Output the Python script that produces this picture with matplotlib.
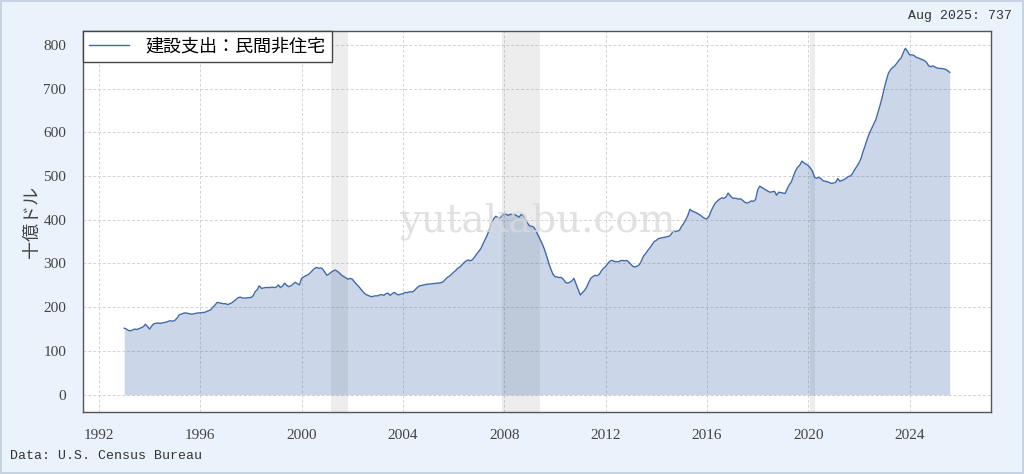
import matplotlib
matplotlib.use('Agg')
import matplotlib.pyplot as plt
import matplotlib.dates as mdates
import pandas as pd

plt.rcParams['font.family'] = ['Liberation Serif', 'Noto Sans CJK JP', 'DejaVu Sans']

# 建設支出：民間非住宅 (十億ドル), monthly Jan 1993 - Aug 2025
v1993 = [152, 150, 147, 146, 148, 150, 149, 151, 153, 155, 161, 156]
v1994 = [150, 157, 162, 163, 164, 163, 164, 165, 166, 168, 169, 168]
v1995 = [170, 175, 182, 184, 186, 187, 186, 185, 184, 185, 186, 187]
v1996 = [187, 188, 188, 190, 192, 194, 200, 205, 211, 210, 209, 208]
v1997 = [208, 206, 208, 210, 214, 218, 222, 223, 221, 221, 221, 222]
v1998 = [222, 226, 235, 240, 249, 243, 244, 245, 245, 245, 246, 245]
v1999 = [246, 251, 245, 248, 255, 250, 247, 249, 253, 257, 254, 251]
v2000 = [266, 269, 272, 274, 278, 283, 288, 291, 289, 290, 287, 280]
v2001 = [273, 276, 280, 283, 285, 282, 278, 273, 270, 267, 264, 266]
v2002 = [264, 258, 253, 248, 242, 236, 231, 228, 226, 224, 225, 226]
v2003 = [226, 228, 229, 227, 231, 232, 227, 231, 234, 230, 228, 230]
v2004 = [231, 234, 233, 235, 235, 236, 241, 246, 249, 250, 251, 252]
v2005 = [253, 253, 254, 254, 255, 255, 256, 258, 263, 268, 271, 275]
v2006 = [280, 284, 289, 292, 297, 302, 306, 308, 306, 309, 315, 322]
v2007 = [328, 335, 345, 355, 365, 378, 392, 402, 408, 405, 404, 410]
v2008 = [415, 412, 410, 413, 411, 412, 409, 406, 412, 410, 400, 392]
v2009 = [386, 385, 383, 375, 365, 355, 345, 333, 318, 302, 288, 276]
v2010 = [270, 269, 268, 268, 264, 257, 255, 257, 260, 266, 253, 240]
v2011 = [228, 233, 238, 245, 256, 266, 270, 273, 272, 275, 283, 289]
v2012 = [293, 300, 305, 307, 305, 304, 304, 306, 307, 306, 307, 303]
v2013 = [298, 293, 292, 294, 297, 306, 317, 323, 330, 336, 343, 350]
v2014 = [353, 357, 358, 359, 360, 361, 362, 366, 374, 373, 374, 376]
v2015 = [385, 392, 400, 410, 424, 420, 418, 416, 413, 410, 406, 403]
v2016 = [402, 408, 420, 430, 438, 443, 447, 450, 449, 452, 461, 455]
v2017 = [450, 449, 449, 447, 448, 444, 440, 438, 440, 443, 442, 446]
v2018 = [468, 477, 474, 471, 468, 465, 463, 464, 465, 456, 463, 462]
v2019 = [461, 460, 470, 480, 486, 500, 512, 520, 525, 534, 530, 527]
v2020 = [524, 518, 511, 497, 495, 497, 494, 489, 488, 487, 485, 483]
v2021 = [484, 486, 494, 488, 490, 492, 495, 499, 500, 506, 515, 522]
v2022 = [530, 541, 556, 570, 585, 598, 608, 618, 629, 645, 662, 680]
v2023 = [701, 720, 735, 743, 748, 752, 758, 765, 770, 782, 792, 785]
v2024 = [777, 777, 776, 772, 770, 768, 766, 764, 760, 752, 750, 752]
v2025 = [749, 747, 746, 746, 745, 744, 741, 737]

values = (v1993 + v1994 + v1995 + v1996 + v1997 + v1998 + v1999 + v2000 + v2001 + v2002
          + v2003 + v2004 + v2005 + v2006 + v2007 + v2008 + v2009 + v2010 + v2011 + v2012
          + v2013 + v2014 + v2015 + v2016 + v2017 + v2018 + v2019 + v2020 + v2021 + v2022
          + v2023 + v2024 + v2025)
dates = pd.date_range('1993-01-01', periods=len(values), freq='MS')

# 景気後退期
recessions = [('2001-03-01', '2001-11-01'), ('2007-12-01', '2009-06-01'), ('2020-02-01', '2020-04-01')]

series_label = '建設支出：民間非住宅'
latest_label = 'Aug 2025: 737'
source_label = 'Data: U.S. Census Bureau'

line_color = '#4169aa'

fig = plt.figure(figsize=(10.24, 4.74), dpi=100, facecolor='#eaf2fb',
                 edgecolor='#c5d3e3', linewidth=1.5)
ax = fig.add_axes([83 / 1024, 62 / 474, 908 / 1024, 381 / 474])
ax.set_facecolor('white')

ax.plot(dates, values, color=line_color, lw=1.0, label=series_label, zorder=3)
ax.fill_between(dates, values, 0, color=line_color, alpha=0.27, lw=0, zorder=2)

for start, end in recessions:
    ax.axvspan(pd.Timestamp(start), pd.Timestamp(end), color='gray', alpha=0.14, lw=0, zorder=1)

ax.xaxis.set_major_locator(mdates.YearLocator(4))
ax.xaxis.set_major_formatter(mdates.DateFormatter('%Y'))
ax.set_yticks(range(0, 801, 100))

ax.grid(True, ls=(0, (3, 2)), color='#d3d3d3', lw=0.7, zorder=0)
ax.set_axisbelow(True)
ax.tick_params(length=0, pad=12, labelsize=11, labelcolor='#444444')
for s in ax.spines.values():
    s.set_color('#555555')
    s.set_linewidth(1.0)

ax.set_ylabel('十億ドル', fontsize=13, color='#444444', labelpad=2,
              family=['Noto Sans CJK JP', 'DejaVu Sans'])

leg = ax.legend(loc='upper left', borderaxespad=0, fancybox=False, framealpha=1,
                edgecolor='#444444', prop={'family': ['Noto Sans CJK JP'], 'size': 13},
                handlelength=2.2, handletextpad=0.9, borderpad=0.35)
leg.get_frame().set_linewidth(1.0)
leg.set_zorder(5)

ax.text(0.5, 0.5, 'yutakabu.com', transform=ax.transAxes, fontsize=28,
        family='DejaVu Serif', color='#dadada', alpha=0.8, ha='center', va='center', zorder=4)

fig.text(1012 / 1024, 1 - 16 / 474, latest_label, ha='right', va='center',
         fontsize=9.5, family='Liberation Mono', color='#333333')
fig.text(10 / 1024, 1 - 456 / 474, source_label, ha='left', va='center',
         fontsize=9.5, family='Liberation Mono', color='#333333')

fig.savefig('out.png', dpi=100, facecolor=fig.get_facecolor(), edgecolor=fig.get_edgecolor())
